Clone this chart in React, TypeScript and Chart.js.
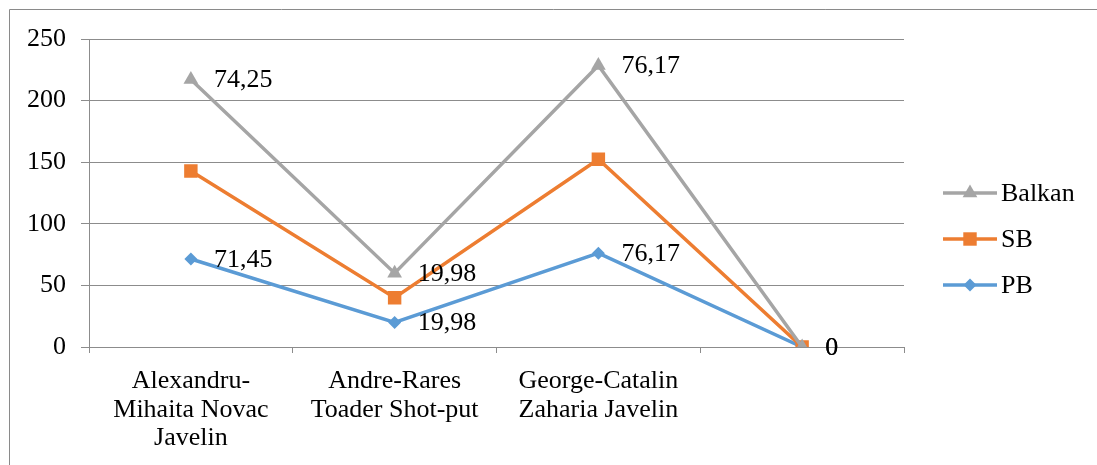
import React, { useEffect, useRef } from "react";
import { Chart, registerables } from "chart.js";

Chart.register(...registerables);

const categories: (string | string[])[] = [
  ["Alexandru-", "Mihaita Novac", "Javelin"],
  ["Andre-Rares", "Toader Shot-put"],
  ["George-Catalin", "Zaharia Javelin"],
  "",
];
const pbValues = [71.45, 19.98, 76.17, 0];
const sbValues = [71.45, 19.98, 76.17, 0];
const balkanValues = [74.25, 19.98, 76.17, 0];
const seriesNames = ["Balkan", "SB", "PB"];
const yTickMin = 0;
const yTickMax = 250;
const yTickStep = 50;

const GRAY = "#A5A5A5";
const ORANGE = "#ED7D31";
const BLUE = "#5B9BD5";
const GRID = "#8C8C8C";
const FONT = '"Liberation Serif", "Times New Roman", Times, serif';

const fmt = (v: number) => String(v).replace(".", ",");

function drawMarker(ctx: CanvasRenderingContext2D, style: string, x: number, y: number, r: number, color: string) {
  ctx.save();
  ctx.fillStyle = color;
  ctx.beginPath();
  if (style === "triangle") {
    ctx.moveTo(x, y - r);
    ctx.lineTo(x + r * 0.866, y + r / 2);
    ctx.lineTo(x - r * 0.866, y + r / 2);
  } else if (style === "rect") {
    const s = r * Math.SQRT1_2;
    ctx.rect(x - s, y - s, 2 * s, 2 * s);
  } else {
    ctx.moveTo(x - r, y);
    ctx.lineTo(x, y - r);
    ctx.lineTo(x + r, y);
    ctx.lineTo(x, y + r);
  }
  ctx.closePath();
  ctx.fill();
  ctx.restore();
}

export default function App() {
  const ref = useRef<HTMLCanvasElement | null>(null);

  useEffect(() => {
    const canvas = ref.current;
    if (!canvas) return;

    const sbStack = pbValues.map((v, i) => v + sbValues[i]);
    const balkanStack = sbStack.map((v, i) => v + balkanValues[i]);

    const styles = [
      { color: GRAY, point: "triangle", r: 8.5 },
      { color: ORANGE, point: "rect", r: 9.5 },
      { color: BLUE, point: "rectRot", r: 6.5 },
    ];
    const stacks = [balkanStack, sbStack, pbValues];
    const raws = [balkanValues, sbValues, pbValues];
    const showLabels = [true, false, true];

    const framePlugin = {
      id: "frame",
      beforeDraw(c: any) {
        const ctx = c.ctx;
        ctx.save();
        ctx.strokeStyle = "#8A8A8A";
        ctx.lineWidth = 1;
        ctx.beginPath();
        ctx.moveTo(9.5, c.height);
        ctx.lineTo(9.5, 9.5);
        ctx.lineTo(c.width, 9.5);
        ctx.stroke();
        ctx.restore();
      },
    };

    const labelPlugin = {
      id: "valueLabels",
      afterDatasetsDraw(c: any) {
        const ctx = c.ctx;
        ctx.save();
        ctx.font = `26px ${FONT}`;
        ctx.fillStyle = "#000";
        ctx.textAlign = "left";
        ctx.textBaseline = "middle";
        c.data.datasets.forEach((ds: any, i: number) => {
          if (!showLabels[i]) return;
          const meta = c.getDatasetMeta(i);
          meta.data.forEach((pt: any, j: number) => {
            ctx.fillText(fmt(raws[i][j]), pt.x + 23, pt.y + 1);
          });
        });
        ctx.restore();
      },
    };

    const legendPlugin = {
      id: "customLegend",
      afterDraw(c: any) {
        const ctx = c.ctx;
        ctx.save();
        ctx.font = `26px ${FONT}`;
        ctx.textAlign = "left";
        ctx.textBaseline = "middle";
        const rowsY = [193, 239, 285];
        seriesNames.forEach((name, i) => {
          const y = rowsY[i];
          const st = styles[i];
          ctx.strokeStyle = st.color;
          ctx.lineWidth = 3.5;
          ctx.beginPath();
          ctx.moveTo(943, y);
          ctx.lineTo(997, y);
          ctx.stroke();
          drawMarker(ctx, st.point, 970, y, st.r, st.color);
          ctx.fillStyle = "#000";
          ctx.fillText(name, 1001, y + 1);
        });
        ctx.restore();
      },
    };

    const chart = new Chart(canvas, {
      type: "line",
      data: {
        labels: categories,
        datasets: seriesNames.map((name, i) => ({
          label: name,
          data: stacks[i],
          borderColor: styles[i].color,
          backgroundColor: styles[i].color,
          borderWidth: 3.5,
          pointStyle: styles[i].point as any,
          pointRadius: styles[i].r,
          pointBorderWidth: 0,
          pointBackgroundColor: styles[i].color,
          tension: 0,
          fill: false,
        })),
      },
      options: {
        responsive: false,
        animation: false,
        layout: { padding: { top: 39, right: 193, bottom: 0, left: 0 } },
        plugins: {
          legend: { display: false },
          tooltip: { enabled: false },
        },
        scales: {
          x: {
            type: "category",
            offset: true,
            grid: {
              display: true,
              drawOnChartArea: false,
              drawTicks: true,
              tickLength: 6,
              color: GRID,
              offset: true,
            },
            border: { color: GRID, width: 1 },
            ticks: {
              color: "#000",
              font: { family: FONT, size: 26, lineHeight: 1.1 },
              padding: 14,
              maxRotation: 0,
              autoSkip: false,
            },
            afterFit(scale: any) {
              scale.height = 118;
            },
          },
          y: {
            min: yTickMin,
            max: yTickMax,
            grid: { color: GRID, tickLength: 8, lineWidth: 1 },
            border: { color: GRID, width: 1 },
            ticks: {
              stepSize: yTickStep,
              color: "#000",
              font: { family: FONT, size: 26 },
              padding: 15,
            },
            afterFit(scale: any) {
              scale.width = 89;
            },
          },
        },
      },
      plugins: [framePlugin, labelPlugin, legendPlugin],
    });

    return () => chart.destroy();
  }, []);

  return (
    <div style={{ position: "absolute", left: 0, top: 0, width: 1097, height: 465 }}>
      <canvas ref={ref} width={1097} height={465} style={{ width: 1097, height: 465, display: "block" }} />
    </div>
  );
}
